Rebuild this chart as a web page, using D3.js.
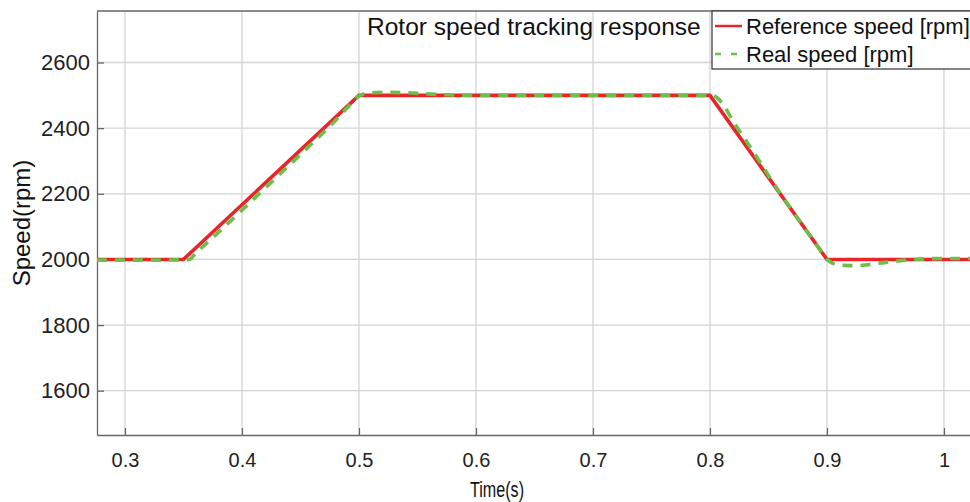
<!DOCTYPE html>
<head>
    <meta charset="utf-8">
    <title>Rotor speed tracking response</title>
    <script src="https://d3js.org/d3.v7.min.js"></script>
    <style>
        body { margin: 0; background: #fff; }
        svg { display: block; font-family: "Liberation Sans", Arial, sans-serif; }
    </style>
</head>
<body>
    <svg class="chart" width="970" height="502"></svg>
    <script>
        // reference speed profile (time s, speed rpm)
        var refTime  = [0.276, 0.35, 0.5, 0.8, 0.9, 1.03];
        var refSpeed = [2000, 2000, 2500, 2500, 2000, 2000];

        var realTime  = [0.276, 0.30, 0.33, 0.35, 0.355, 0.36, 0.38, 0.40, 0.42, 0.45, 0.48, 0.49, 0.50, 0.505, 0.52, 0.54, 0.56, 0.58, 0.60, 0.70, 0.80, 0.803, 0.807, 0.812, 0.82, 0.83, 0.84, 0.85, 0.86, 0.87, 0.88, 0.89, 0.90, 0.905, 0.915, 0.925, 0.935, 0.95, 0.965, 0.98, 1.00, 1.03];
        var realSpeed = [1998, 1998, 1998, 1999, 2000, 2017, 2083, 2150, 2218, 2320, 2424, 2462, 2498, 2505, 2509, 2508, 2504, 2501, 2500, 2500, 2500, 2499, 2490, 2468, 2420, 2366, 2312, 2256, 2202, 2150, 2100, 2050, 2001, 1988, 1982, 1981, 1984, 1991, 1997, 2001, 2003, 2003];

        var xTicks = [0.3, 0.4, 0.5, 0.6, 0.7, 0.8, 0.9, 1];
        var yTicks = [1600, 1800, 2000, 2200, 2400, 2600];

        function draw() {
            var svg = d3.select("svg");
            var pl = 97, pt = 11, pb = 435;
            var xmin = 0.2761, xmax = 1.03;

            var x = d3.scaleLinear().domain([xmin, xmax]).range([pl, pl + 1170 * (xmax - xmin)]);
            var y = d3.scaleLinear().domain([1465, 2757]).range([pb, pt]);
            var pr = x(xmax);

            // grid
            svg.append("g").selectAll("line").data(xTicks).enter().append("line")
                .attr("x1", d => x(d)).attr("x2", d => x(d))
                .attr("y1", pt).attr("y2", pb)
                .attr("stroke", "#d4d4d4").attr("stroke-width", 1.3);
            svg.append("g").selectAll("line").data(yTicks).enter().append("line")
                .attr("x1", pl).attr("x2", pr)
                .attr("y1", d => y(d)).attr("y2", d => y(d))
                .attr("stroke", "#d4d4d4").attr("stroke-width", 1.3);

            // axes, ticks pointing inward
            var xAxis = svg.append("g")
                .attr("transform", "translate(0," + pb + ")")
                .call(d3.axisBottom(x).tickValues(xTicks).tickSizeInner(-7).tickSizeOuter(0).tickPadding(18)
                    .tickFormat(d3.format("~g")));
            var yAxis = svg.append("g")
                .attr("transform", "translate(" + pl + ",0)")
                .call(d3.axisLeft(y).tickValues(yTicks).tickSizeInner(-7).tickSizeOuter(0).tickPadding(7)
                    .tickFormat(d3.format("d")));
            [xAxis, yAxis].forEach(function(a) {
                a.select(".domain").attr("stroke", "#666").attr("stroke-width", 1.3);
                a.selectAll(".tick line").attr("stroke", "#666").attr("stroke-width", 1.3);
                a.selectAll("text").attr("fill", "#222")
                    .attr("font-family", "Liberation Sans, Arial, sans-serif");
            });
            xAxis.selectAll("text").attr("font-size", 20);
            yAxis.selectAll("text").attr("font-size", 22);

            // top frame
            svg.append("line").attr("x1", pl).attr("x2", pr).attr("y1", pt).attr("y2", pt)
                .attr("stroke", "#666").attr("stroke-width", 1.3);

            var refData = refTime.map((t, i) => [t, refSpeed[i]]);
            var realData = realTime.map((t, i) => [t, realSpeed[i]]);

            svg.append("defs").append("clipPath").attr("id", "plot")
                .append("rect").attr("x", pl).attr("y", pt).attr("width", pr - pl).attr("height", pb - pt);
            var plot = svg.append("g").attr("clip-path", "url(#plot)");

            plot.append("path").datum(refData)
                .attr("d", d3.line().x(d => x(d[0])).y(d => y(d[1])))
                .attr("fill", "none").attr("stroke", "#e8262a").attr("stroke-width", 3.6);
            plot.append("path").datum(realData)
                .attr("d", d3.line().x(d => x(d[0])).y(d => y(d[1])).curve(d3.curveMonotoneX))
                .attr("fill", "none").attr("stroke", "#6cbf48").attr("stroke-width", 3.6)
                .attr("stroke-dasharray", "10,8");

            // title
            svg.append("text").attr("x", 367).attr("y", 35)
                .attr("font-size", 24.5).attr("fill", "#111")
                .text("Rotor speed tracking response");

            // legend
            var lg = svg.append("g");
            lg.append("rect").attr("x", 712).attr("y", 11).attr("width", 300).attr("height", 58)
                .attr("fill", "#fff").attr("stroke", "#333").attr("stroke-width", 1.2);
            lg.append("line").attr("x1", 715).attr("x2", 742).attr("y1", 26).attr("y2", 26)
                .attr("stroke", "#e8262a").attr("stroke-width", 2.5);
            lg.append("line").attr("x1", 715).attr("x2", 742).attr("y1", 54).attr("y2", 54)
                .attr("stroke", "#6cbf48").attr("stroke-width", 2.5).attr("stroke-dasharray", "6,10");
            lg.append("text").attr("x", 746).attr("y", 34).attr("font-size", 22).attr("fill", "#111")
                .text("Reference speed [rpm]");
            lg.append("text").attr("x", 746).attr("y", 62).attr("font-size", 22).attr("fill", "#111")
                .text("Real speed [rpm]");

            // axis titles
            svg.append("text").attr("x", 497).attr("y", 497)
                .attr("text-anchor", "middle").attr("font-size", 22).attr("fill", "#111")
                .attr("textLength", 54).attr("lengthAdjust", "spacingAndGlyphs")
                .text("Time(s)");
            svg.append("text").attr("transform", "translate(30," + (pt + pb) / 2 + ") rotate(-90)")
                .attr("text-anchor", "middle").attr("font-size", 24).attr("fill", "#111")
                .text("Speed(rpm)");
        }
        draw();
    </script>
</body>
